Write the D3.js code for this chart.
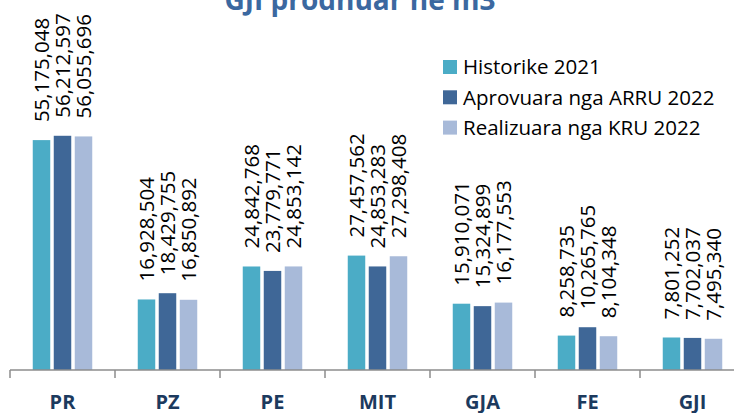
<!DOCTYPE html>
<html>
<head>
<meta charset="utf-8">
<script src="https://cdn.jsdelivr.net/npm/d3@7"></script>
<style>
  body { margin: 0; background: #fff; }
  svg { display: block; }
</style>
</head>
<body>
<svg id="chart" width="734" height="413"></svg>
<script>
const categories = ['PR', 'PZ', 'PE', 'MIT', 'GJA', 'FE', 'GJI']
const seriesNames = ['Historike 2021', 'Aprovuara nga ARRU 2022', 'Realizuara nga KRU 2022']
const historike = [55175048, 16928504, 24842768, 27457562, 15910071, 8258735, 7801252]
const aprovuara = [56212597, 18429755, 23779771, 24853283, 15324899, 10265765, 7702037]
const realizuara = [56055696, 16850892, 24853142, 27298408, 16177553, 8104348, 7495340]
const colors = ['#4BACC6', '#3F6797', '#A8BAD9']

const series = [historike, aprovuara, realizuara]
const svg = d3.select('#chart')

const x = d3.scaleBand().domain(categories).range([10, 745])
const xSub = d3.scaleBand().domain(d3.range(3)).range([0, 59.5]).paddingInner(1 / 6)
const groupOffset = (x.bandwidth() - 59.5) / 2
const y = d3.scaleLinear().domain([0, 60e6]).range([370, 120])
const fmt = d3.format(',')

// title (cut by top edge like in the source)
svg.append('text')
  .attr('x', 360)
  .attr('y', 10)
  .attr('text-anchor', 'middle')
  .attr('font-family', 'Open Sans')
  .attr('font-weight', 'bold')
  .attr('font-size', 28)
  .attr('fill', '#3B68A0')
  .text('GJI prodhuar në m3')

const bars = []
categories.forEach((c, i) => {
  series.forEach((s, k) => {
    bars.push({ cat: c, k, value: s[i] })
  })
})

const g = svg.append('g')

g.selectAll('rect').data(bars).enter()
  .append('rect')
  .attr('x', d => x(d.cat) + groupOffset + xSub(d.k))
  .attr('y', d => y(d.value))
  .attr('width', xSub.bandwidth())
  .attr('height', d => y(0) - y(d.value))
  .attr('fill', d => colors[d.k])

g.selectAll('text.lbl').data(bars).enter()
  .append('text')
  .attr('class', 'lbl')
  .attr('transform', d => {
    const cx = x(d.cat) + groupOffset + xSub(d.k) + xSub.bandwidth() / 2
    return `translate(${cx},${y(d.value) - 18}) rotate(-90)`
  })
  .attr('dy', '0.36em')
  .attr('font-family', 'Open Sans')
  .attr('font-size', 20.5)
  .attr('fill', '#000')
  .text(d => fmt(d.value))

// axis
const axis = svg.append('g').attr('stroke', '#8C8C8C').attr('stroke-width', 1.5)
axis.append('line')
  .attr('x1', x.range()[0]).attr('x2', x.range()[1])
  .attr('y1', y(0)).attr('y2', y(0))
axis.selectAll('line.tick').data(categories).enter()
  .append('line')
  .attr('class', 'tick')
  .attr('x1', d => x(d)).attr('x2', d => x(d))
  .attr('y1', y(0)).attr('y2', y(0) + 8)

svg.selectAll('text.cat').data(categories).enter()
  .append('text')
  .attr('class', 'cat')
  .attr('x', d => x(d) + x.bandwidth() / 2)
  .attr('y', 409)
  .attr('text-anchor', 'middle')
  .attr('font-family', 'Open Sans')
  .attr('font-weight', 'bold')
  .attr('font-size', 20)
  .attr('fill', '#1C3A5E')
  .text(d => d)

// legend
const legend = svg.append('g').attr('transform', 'translate(443,67)')
const li = legend.selectAll('g').data(seriesNames).enter()
  .append('g')
  .attr('transform', (d, i) => `translate(0,${i * 30.3})`)
li.append('rect')
  .attr('x', 0).attr('y', -7)
  .attr('width', 14).attr('height', 14)
  .attr('fill', (d, i) => colors[i])
li.append('text')
  .attr('x', 20)
  .attr('dy', '0.36em')
  .attr('font-family', 'Open Sans')
  .attr('font-size', 20.5)
  .attr('fill', '#000')
  .text(d => d)
</script>
</body>
</html>
